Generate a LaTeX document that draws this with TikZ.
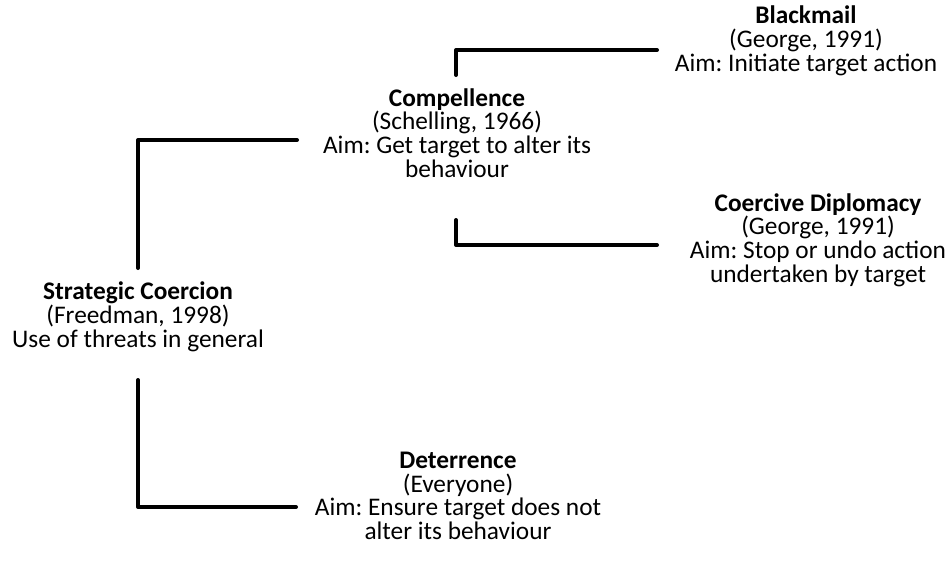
\documentclass[tikz,border=0pt]{standalone}
\usepackage{fontspec}
\setmainfont{Carlito}
\usepackage{tikz}
\frenchspacing

\tikzset{
  txt/.style={align=center, inner sep=0pt, font=\fontsize{19}{17.8}\selectfont},
  bracket/.style={line width=3pt, line cap=round, line join=round}
}

\begin{document}
\begin{tikzpicture}[x=0.75pt, y=-0.75pt]
\useasboundingbox (0,0) rectangle (952,568);

\node[txt] (1) at (138,317) {\textbf{Strategic Coercion}\\(Freedman, 1998)\\Use of threats in general};

\node[txt] (21) at (457,133) {\textbf{Compellence}\\(Schelling, 1966)\\Aim: Get target to alter its\\behaviour};
\node[txt] (22) at (458,496) {\textbf{Deterrence}\\(Everyone)\\Aim: Ensure target does not\\alter its behaviour};

\node[txt] (31) at (806,41) {\textbf{Blackmail}\\(George, 1991)\\Aim: Initiate target action};
\node[txt] (32) at (818,240) {\textbf{Coercive Diplomacy}\\(George, 1991)\\Aim: Stop or undo action\\undertaken by target};

\coordinate (1t) at (138,268);
\coordinate (1b) at (138,380);
\coordinate (21l) at (297,140);
\coordinate (22l) at (296,507);
\coordinate (21t) at (456,75);
\coordinate (21b) at (456,220);
\coordinate (31l) at (657,50);
\coordinate (32l) at (657,245);

\draw[bracket] (1t) |- (21l);
\draw[bracket] (1b) |- (22l);
\draw[bracket] (21t) |- (31l);
\draw[bracket] (21b) |- (32l);
\end{tikzpicture}
\end{document}
